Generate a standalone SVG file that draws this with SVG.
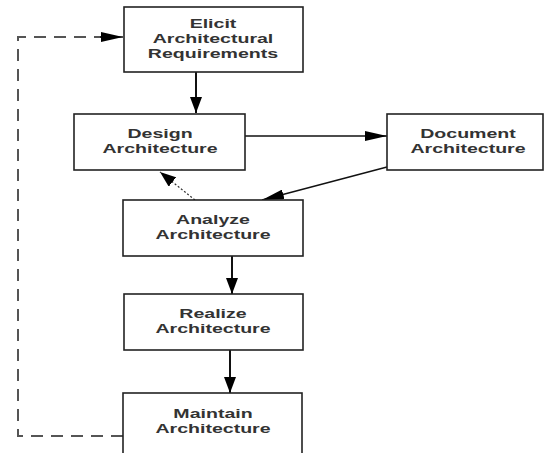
<svg xmlns="http://www.w3.org/2000/svg" width="544" height="453" viewBox="0 0 544 453">
<style>
.box{fill:#fff;stroke:#222;stroke-width:1.6}
.lbl{font-family:"Liberation Sans",Arial,sans-serif;font-weight:bold;font-size:13.5px;fill:#333;text-anchor:middle}
.edge{fill:none;stroke:#111;stroke-width:1.4}
.thick{stroke-width:2}
.dash{stroke:#555;stroke-width:2;stroke-dasharray:12 8}
.dot{stroke:#333;stroke-width:1.2;stroke-dasharray:2 2}
</style>
<defs>
<marker id="ah" markerWidth="16" markerHeight="12" refX="16" refY="6" orient="auto" markerUnits="userSpaceOnUse">
<path d="M0,0 L16,6 L0,12 Z" fill="#000"/>
</marker>
<marker id="ahl" markerWidth="22" markerHeight="10" refX="22" refY="5" orient="auto" markerUnits="userSpaceOnUse">
<path d="M0,0 L22,5 L0,10 Z" fill="#000"/>
</marker>
</defs>
<rect width="544" height="453" fill="#fff"/>
<g id="connectors">
<line class="edge thick" x1="196" y1="72" x2="196" y2="113" marker-end="url(#ah)"/>
<line class="edge" x1="245" y1="136" x2="387" y2="136" marker-end="url(#ahl)"/>
<line class="edge" x1="387" y1="167" x2="262" y2="200" marker-end="url(#ahl)"/>
<line class="edge dot" x1="195" y1="200" x2="160" y2="172" marker-end="url(#ah)"/>
<line class="edge thick" x1="232" y1="256" x2="232" y2="294" marker-end="url(#ah)"/>
<line class="edge thick" x1="230" y1="350" x2="230" y2="393" marker-end="url(#ah)"/>
<polyline class="edge dash" points="123,436 18,436 18,37 104,37"/>
<line class="edge" x1="100" y1="37" x2="123" y2="37" marker-end="url(#ahl)"/>
</g>
<g id="elicit">
<rect class="box" x="124" y="7" width="179" height="65"/>
<text class="lbl" transform="translate(213,28) scale(1.45,1)">Elicit</text>
<text class="lbl" transform="translate(213,43) scale(1.45,1)">Architectural</text>
<text class="lbl" transform="translate(213,58) scale(1.45,1)">Requirements</text>
</g>
<g id="design">
<rect class="box" x="74" y="114" width="171" height="56"/>
<text class="lbl" transform="translate(160,138) scale(1.45,1)">Design</text>
<text class="lbl" transform="translate(160,153) scale(1.45,1)">Architecture</text>
</g>
<g id="document">
<rect class="box" x="387" y="114" width="156" height="56"/>
<text class="lbl" transform="translate(468,138) scale(1.45,1)">Document</text>
<text class="lbl" transform="translate(468,153) scale(1.45,1)">Architecture</text>
</g>
<g id="analyze">
<rect class="box" x="123" y="200" width="180" height="56"/>
<text class="lbl" transform="translate(213,224) scale(1.45,1)">Analyze</text>
<text class="lbl" transform="translate(213,239) scale(1.45,1)">Architecture</text>
</g>
<g id="realize">
<rect class="box" x="124" y="294" width="179" height="56"/>
<text class="lbl" transform="translate(213,318) scale(1.45,1)">Realize</text>
<text class="lbl" transform="translate(213,333) scale(1.45,1)">Architecture</text>
</g>
<g id="maintain">
<rect class="box" x="123" y="393" width="179" height="70"/>
<text class="lbl" transform="translate(213,418) scale(1.45,1)">Maintain</text>
<text class="lbl" transform="translate(213,433) scale(1.45,1)">Architecture</text>
</g>
</svg>
